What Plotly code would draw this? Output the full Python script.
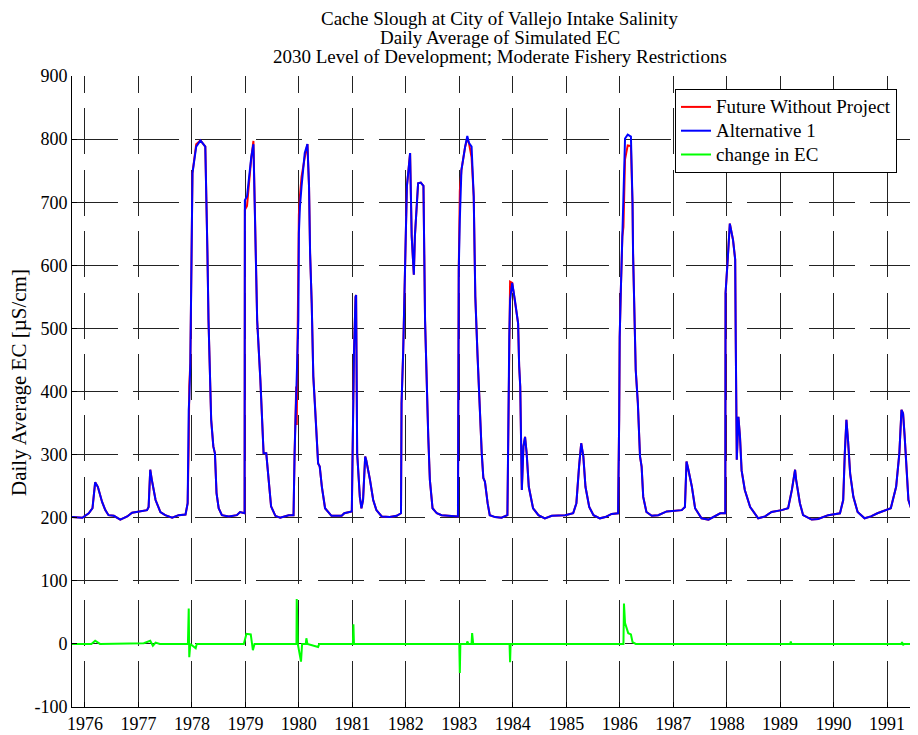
import plotly.graph_objects as go

# ---------------- data (decimal years, EC in uS/cm) ----------------
alt_x = [1975.757, 1975.95, 1976.07, 1976.14, 1976.19, 1976.24, 1976.32, 1976.38, 1976.44, 1976.54,
         1976.66, 1976.79, 1976.88, 1977.16, 1977.19, 1977.22, 1977.25, 1977.32, 1977.41, 1977.50,
         1977.63, 1977.75, 1977.88, 1977.92, 1977.94, 1977.95, 1977.97, 1977.99, 1978.01, 1978.08,
         1978.16, 1978.25, 1978.27, 1978.29, 1978.31, 1978.34, 1978.36, 1978.40, 1978.43, 1978.46,
         1978.50, 1978.56, 1978.69, 1978.84, 1978.90, 1978.985, 1978.99, 1979.03, 1979.06, 1979.11,
         1979.15, 1979.17, 1979.22, 1979.28, 1979.34, 1979.39, 1979.44, 1979.48, 1979.56, 1979.65,
         1979.81, 1979.90, 1979.92, 1979.95, 1979.96, 1979.99, 1980.00, 1980.02, 1980.05, 1980.11,
         1980.16, 1980.19, 1980.21, 1980.24, 1980.27, 1980.30, 1980.33, 1980.36, 1980.39, 1980.43,
         1980.49, 1980.61, 1980.80, 1980.85, 1980.99, 1981.00, 1981.02, 1981.03, 1981.06, 1981.07,
         1981.09, 1981.10, 1981.14, 1981.17, 1981.20, 1981.24, 1981.26, 1981.33, 1981.39, 1981.45,
         1981.55, 1981.70, 1981.83, 1981.91, 1981.92, 1981.95, 1981.98, 1982.02, 1982.05, 1982.08,
         1982.11, 1982.15, 1982.17, 1982.20, 1982.23, 1982.28, 1982.33, 1982.36, 1982.39, 1982.42,
         1982.45, 1982.50, 1982.58, 1982.67, 1982.975, 1982.98, 1982.99, 1983.01, 1983.04, 1983.11,
         1983.15, 1983.18, 1983.23, 1983.27, 1983.30, 1983.34, 1983.39, 1983.42, 1983.45, 1983.48,
         1983.53, 1983.57, 1983.67, 1983.79, 1983.90, 1983.92, 1983.935, 1983.95, 1983.99, 1984.04,
         1984.10, 1984.12, 1984.14, 1984.17, 1984.20, 1984.23, 1984.26, 1984.30, 1984.38, 1984.48,
         1984.60, 1984.73, 1984.98, 1985.13, 1985.19, 1985.24, 1985.28, 1985.32, 1985.36, 1985.43,
         1985.51, 1985.63, 1985.73, 1985.85, 1985.97, 1985.99, 1986.00, 1986.02, 1986.05, 1986.07,
         1986.10, 1986.15, 1986.21, 1986.24, 1986.25, 1986.30, 1986.34, 1986.38, 1986.41, 1986.44,
         1986.50, 1986.60, 1986.72, 1986.88, 1987.16, 1987.22, 1987.25, 1987.28, 1987.35, 1987.41,
         1987.53, 1987.66, 1987.78, 1987.88, 1987.975, 1987.98, 1988.02, 1988.06, 1988.12, 1988.16,
         1988.17, 1988.19, 1988.22, 1988.25, 1988.28, 1988.34, 1988.44, 1988.59, 1988.72, 1988.84,
         1989.03, 1989.15, 1989.22, 1989.28, 1989.30, 1989.37, 1989.43, 1989.59, 1989.71, 1989.90,
         1990.12, 1990.18, 1990.21, 1990.24, 1990.27, 1990.31, 1990.37, 1990.45, 1990.58, 1990.70,
         1990.82, 1991.07, 1991.17, 1991.23, 1991.27, 1991.30, 1991.33, 1991.36, 1991.40, 1991.49,
         1991.60, 1991.75]

alt_y = [201, 200, 207, 215, 256, 249, 225, 212, 204, 203,
         197, 202, 208, 212, 217, 276, 260, 228, 209, 204,
         200, 204, 205, 223, 371, 387, 445, 603, 746, 788,
         798, 788, 725, 619, 513, 408, 355, 313, 302, 239,
         215, 204, 202, 204, 209, 207, 703, 709, 735, 772,
         792, 698, 513, 418, 302, 302, 249, 218, 203, 200,
         204, 204, 302, 408, 418, 513, 651, 693, 725, 778,
         792, 725, 619, 540, 424, 381, 328, 286, 281, 249,
         215, 203, 203, 207, 210, 302, 408, 460, 550, 553,
         302, 286, 233, 215, 228, 297, 291, 260, 228, 212,
         202, 201, 203, 207, 381, 460, 593, 725, 751, 778,
         646, 585, 646, 699, 730, 731, 726, 513, 408, 328,
         260, 215, 207, 204, 202, 513, 593, 672, 751, 788,
         805, 794, 788, 709, 550, 460, 355, 302, 263, 257,
         223, 204, 201, 200, 204, 408, 486, 545, 572, 545,
         508, 440, 408, 244, 313, 328, 302, 249, 215, 204,
         199, 203, 204, 207, 223, 281, 318, 297, 249, 217,
         204, 199, 201, 206, 207, 355, 486, 556, 646, 725,
         801, 807, 804, 699, 619, 434, 381, 297, 281, 233,
         209, 203, 204, 210, 212, 217, 289, 278, 249, 215,
         199, 197, 202, 207, 207, 556, 609, 666, 640, 609,
         486, 292, 360, 328, 275, 244, 217, 199, 202, 209,
         212, 215, 244, 276, 260, 223, 204, 197, 198, 204,
         207, 228, 302, 355, 323, 270, 233, 209, 199, 202,
         207, 215, 249, 302, 371, 365, 328, 275, 228, 204,
         202, 203]

# Future Without Project: same sample dates as Alternative 1
fwp_y = [201, 200, 207, 215, 256, 249, 225, 212, 204, 203,
         197, 202, 208, 212, 217, 276, 260, 228, 209, 204,
         200, 204, 205, 223, 315, 408, 445, 603, 746, 792,
         798, 788, 725, 619, 513, 408, 355, 313, 302, 239,
         215, 204, 202, 204, 209, 207, 688, 694, 725, 770,
         797, 698, 513, 418, 302, 302, 249, 218, 203, 200,
         204, 204, 302, 408, 347, 560, 680, 710, 740, 771,
         792, 725, 619, 540, 424, 381, 328, 286, 281, 249,
         215, 203, 203, 207, 210, 302, 377, 460, 550, 553,
         302, 286, 233, 215, 228, 297, 291, 260, 228, 212,
         202, 201, 203, 207, 381, 460, 593, 725, 751, 778,
         646, 585, 646, 699, 730, 731, 726, 513, 408, 328,
         260, 215, 207, 204, 202, 513, 593, 718, 751, 788,
         801, 794, 771, 709, 550, 460, 355, 302, 263, 257,
         223, 204, 201, 200, 204, 408, 486, 574, 572, 545,
         508, 440, 408, 244, 313, 328, 302, 249, 215, 204,
         199, 203, 204, 207, 223, 281, 318, 297, 249, 217,
         204, 199, 201, 206, 207, 355, 486, 556, 646, 661,
         768, 790, 789, 696, 619, 434, 381, 297, 281, 233,
         209, 203, 204, 210, 212, 217, 289, 278, 249, 215,
         199, 197, 202, 207, 207, 556, 609, 666, 640, 609,
         486, 292, 360, 328, 275, 244, 217, 199, 202, 209,
         212, 215, 244, 276, 260, 223, 204, 197, 198, 204,
         207, 228, 302, 355, 323, 270, 233, 209, 199, 202,
         207, 215, 249, 302, 371, 365, 328, 275, 228, 204,
         202, 203]

chg_x = [1975.757, 1976.12, 1976.19, 1976.28, 1977.10, 1977.22, 1977.27, 1977.32, 1977.40, 1977.925,
         1977.94, 1977.95, 1977.97, 1978.07, 1978.09, 1978.97, 1979.02, 1979.10, 1979.14, 1979.17,
         1979.955, 1979.96, 1979.98, 1980.04, 1980.06, 1980.13, 1980.14, 1980.16, 1980.36, 1980.38,
         1981.01, 1981.02, 1981.03, 1983.00, 1983.01, 1983.02, 1983.14, 1983.15, 1983.17, 1983.23,
         1983.24, 1983.26, 1983.94, 1983.95, 1983.96, 1986.07, 1986.08, 1986.10, 1986.16, 1986.21,
         1986.24, 1986.30, 1989.19, 1989.20, 1989.21, 1991.27, 1991.28, 1991.30, 1991.32, 1991.75]
chg_y = [0, 0, 5, 0, 1, 5, -3, 2, 0, 0,
         56, -21, 0, -7, 0, 0, 16, 15, -10, 0,
         0, 71, 0, -28, 0, 0, 9, 0, -5, 0,
         0, 31, 0, 0, -46, 0, 0, 4, 0, 0,
         17, 0, 0, -29, 0, 0, 64, 33, 17, 15,
         3, 0, 0, 4, 0, 0, 3, -2, 0, 0]

years = list(range(1976, 1992))
year_labels = [str(y) for y in years]
y_ticks = list(range(-100, 1000, 100))
y_labels = [str(v) for v in y_ticks]

series_names = ["Future Without Project", "Alternative 1", "change in EC"]
title_lines = ["Cache Slough at City of Vallejo Intake Salinity",
               "Daily Average of Simulated EC",
               "2030 Level of Development; Moderate Fishery Restrictions"]

# ---------------- figure ----------------
FONT = "Liberation Serif, Times New Roman, serif"
OFF = 8                      # page body margin
PL, PR, PT, PB = 72, 918, 76, 707   # plot area in page pixels
W = PR - OFF
H = 735 - OFF
L = PL - OFF
T = PT - OFF
B = H - (PB - OFF)
pw, ph = PR - PL, PB - PT
x0 = 1975.757
px_per_year = 53.47
x1 = x0 + pw / px_per_year

def xp(px):
    return (px - PL) / pw

def yp(py):
    return (PB - py) / ph

def legend_name(s):
    return '<span style="font-size:19px">' + s + '</span>'

fig = go.Figure()
fig.add_trace(go.Scatter(x=alt_x, y=fwp_y, mode="lines", name=legend_name(series_names[0]),
                         line=dict(color="#ff0000", width=2)))
fig.add_trace(go.Scatter(x=alt_x, y=alt_y, mode="lines", name=legend_name(series_names[1]),
                         line=dict(color="#0000ff", width=2)))
fig.add_trace(go.Scatter(x=chg_x, y=chg_y, mode="lines", name=legend_name(series_names[2]),
                         line=dict(color="#00ff00", width=2)))

vdash = "17px,15.4px," + ",".join(["46px,15.4px"] * 10)

fig.update_layout(
    width=W, height=H,
    margin=dict(l=L, r=0, t=T, b=B, pad=0),
    paper_bgcolor="white", plot_bgcolor="white",
    font=dict(family=FONT, size=18, color="black"),
    showlegend=True,
    legend=dict(x=xp(897), xanchor="right", y=yp(89), yanchor="top",
                bgcolor="white", bordercolor="black", borderwidth=1,
                font=dict(family=FONT, size=16), tracegroupgap=0),
    xaxis=dict(range=[x0, x1], tickmode="array", tickvals=years, ticktext=year_labels,
               ticks="inside", ticklen=5, tickcolor="black", showline=True, linecolor="black",
               linewidth=1, showgrid=True, gridcolor="#222222", gridwidth=1, griddash=vdash,
               zeroline=False, tickfont=dict(size=18)),
    xaxis2=dict(range=[x0, x1], overlaying="x", side="top", tickmode="array", tickvals=years,
                showticklabels=False, ticks="inside", ticklen=5, tickcolor="black",
                showline=True, linecolor="black", linewidth=1, showgrid=False, zeroline=False),
    yaxis=dict(range=[-100, 900], tickmode="array", tickvals=y_ticks, ticktext=y_labels,
               ticks="inside", ticklen=5, tickcolor="black", showline=True, linecolor="black",
               linewidth=1, showgrid=True, gridcolor="#222222", gridwidth=1,
               griddash="46px,15.4px", zeroline=False, tickfont=dict(size=18)),
)

title_y = [18.5, 37.5, 56.5]
for line, ty in zip(title_lines, title_y):
    fig.add_annotation(text=line, xref="paper", yref="paper",
                       x=xp(500), y=yp(ty),
                       xanchor="center", yanchor="middle", showarrow=False,
                       font=dict(family=FONT, size=19))

fig.add_annotation(text="Daily Average EC [µS/cm]", xref="paper", yref="paper",
                   x=xp(19), y=yp(383), textangle=-90,
                   xanchor="center", yanchor="middle", showarrow=False,
                   font=dict(family=FONT, size=21))

fig.write_html("out.html")
